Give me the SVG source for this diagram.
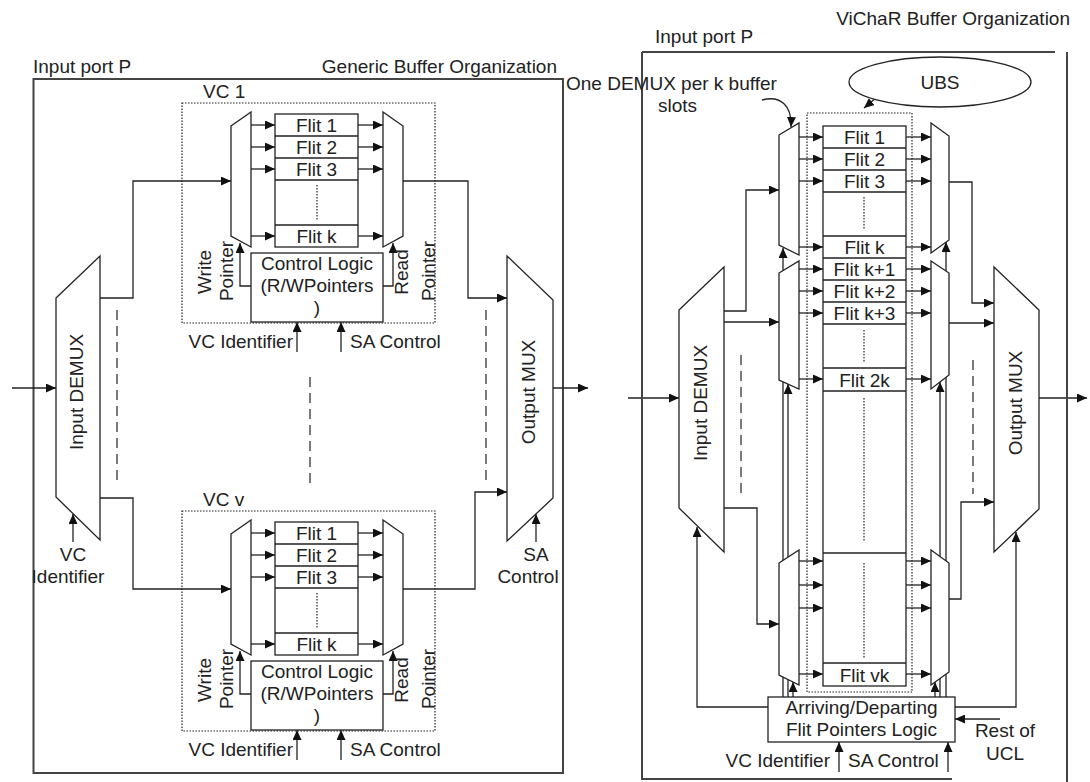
<svg xmlns="http://www.w3.org/2000/svg" width="1090" height="782" viewBox="0 0 1090 782">
<defs>
<marker id="ah" markerUnits="userSpaceOnUse" markerWidth="11" markerHeight="9" refX="10" refY="4.5" orient="auto"><path d="M0,0 L10,4.5 L0,9 z" fill="#111"/></marker>
<style>
.ln{fill:none;stroke:#222;stroke-width:1.3}
.ar{fill:none;stroke:#222;stroke-width:1.3;marker-end:url(#ah)}
.box{fill:#fff;stroke:#222;stroke-width:1.3}
.frame{fill:none;stroke:#444;stroke-width:2}
.dot{fill:none;stroke:#222;stroke-width:1.2;stroke-dasharray:1.5 1.5}
.dash{fill:none;stroke:#333;stroke-width:1.3;stroke-dasharray:10 6}
.t{font-family:"Liberation Sans",Arial,sans-serif;font-size:19px;fill:#222}
.m{text-anchor:middle}
.e{text-anchor:end}
</style>
</defs>
<rect width="1090" height="782" fill="#fff"/>

<!-- ===== LEFT: Generic buffer organization ===== -->
<g id="left-frame">
<rect class="frame" x="33.5" y="79" width="529.5" height="694"/>
<text class="t" x="33" y="73">Input port P</text>
<text class="t e" x="557" y="73">Generic Buffer Organization</text>
</g>

<g id="connectors">
<!-- left input/output -->
<line class="ar" x1="12" y1="388" x2="56" y2="388"/>
<line class="ar" x1="553" y1="388" x2="588" y2="388"/>
<polyline class="ar" points="100,298 133,298 133,181 231,181"/>
<polyline class="ar" points="100,498 133,498 133,589 231,589"/>
<polyline class="ar" points="403,181 468,181 468,298 507,298"/>
<polyline class="ar" points="403,589 475,589 475,492 507,492"/>
<line class="ar" x1="73" y1="542" x2="73" y2="514"/>
<line class="ar" x1="536" y1="542" x2="536" y2="514"/>
<!-- VC1 internal -->
<line class="ar" x1="251" y1="125" x2="275" y2="125"/>
<line class="ar" x1="251" y1="147" x2="275" y2="147"/>
<line class="ar" x1="251" y1="169" x2="275" y2="169"/>
<line class="ar" x1="251" y1="236" x2="275" y2="236"/>
<line class="ar" x1="358" y1="125" x2="383" y2="125"/>
<line class="ar" x1="358" y1="147" x2="383" y2="147"/>
<line class="ar" x1="358" y1="169" x2="383" y2="169"/>
<line class="ar" x1="358" y1="236" x2="383" y2="236"/>
<polyline class="ar" points="251,286 240,286 240,243"/>
<polyline class="ar" points="383,286 393,286 393,243"/>
<line class="ar" x1="297" y1="352" x2="297" y2="322"/>
<line class="ar" x1="341" y1="352" x2="341" y2="322"/>
<!-- VCv internal -->
<line class="ar" x1="251" y1="533" x2="275" y2="533"/>
<line class="ar" x1="251" y1="555" x2="275" y2="555"/>
<line class="ar" x1="251" y1="577" x2="275" y2="577"/>
<line class="ar" x1="251" y1="644" x2="275" y2="644"/>
<line class="ar" x1="358" y1="533" x2="383" y2="533"/>
<line class="ar" x1="358" y1="555" x2="383" y2="555"/>
<line class="ar" x1="358" y1="577" x2="383" y2="577"/>
<line class="ar" x1="358" y1="644" x2="383" y2="644"/>
<polyline class="ar" points="251,694 240,694 240,651"/>
<polyline class="ar" points="383,694 393,694 393,651"/>
<line class="ar" x1="297" y1="760" x2="297" y2="730"/>
<line class="ar" x1="341" y1="760" x2="341" y2="730"/>
<!-- dashed continuation lines -->
<line class="dash" x1="117" y1="310" x2="117" y2="486"/>
<line class="dash" x1="486" y1="310" x2="486" y2="486"/>
<line class="dash" x1="310" y1="377" x2="310" y2="488"/>

<!-- right diagram connectors -->
<line class="ar" x1="628" y1="398" x2="679" y2="398"/>
<line class="ar" x1="1039" y1="398" x2="1087" y2="398"/>
<polyline class="ar" points="724,311 746,311 746,190 779,190"/>
<line class="ar" x1="724" y1="322" x2="779" y2="322"/>
<polyline class="ar" points="724,508 757,508 757,624 779,624"/>
<polyline class="ar" points="949,182 972,182 972,303 994,303"/>
<line class="ar" x1="949" y1="323" x2="994" y2="323"/>
<polyline class="ar" points="949,599 961,599 961,502 994,502"/>
<polyline class="ar" points="768,707 697,707 697,527"/>
<polyline class="ar" points="955,707 1016,707 1016,532"/>
<line class="ar" x1="1000" y1="719" x2="955" y2="719"/>
<line class="ar" x1="839" y1="772" x2="839" y2="742"/>
<line class="ar" x1="948" y1="772" x2="948" y2="742"/>
<path class="ar" d="M762,100 C781,95 792,106 791,127"/>
<line class="ar" x1="876" y1="98" x2="864" y2="108"/>
<!-- pointer lines from logic to demuxes/muxes -->
<line class="ar" x1="783" y1="697" x2="783" y2="248"/>
<line class="ar" x1="788" y1="697" x2="788" y2="384"/>
<line class="ar" x1="793" y1="697" x2="793" y2="682"/>
<line class="ar" x1="946" y1="697" x2="946" y2="242"/>
<line class="ar" x1="940" y1="697" x2="940" y2="382"/>
<line class="ar" x1="935" y1="697" x2="935" y2="682"/>
<line class="dash" x1="741" y1="355" x2="741" y2="498"/>
<line class="dash" x1="973" y1="360" x2="973" y2="494"/>
<!-- demux -> flit arrows -->
<line class="ar" x1="799" y1="137" x2="823" y2="137"/>
<line class="ar" x1="799" y1="159" x2="823" y2="159"/>
<line class="ar" x1="799" y1="181" x2="823" y2="181"/>
<line class="ar" x1="799" y1="247" x2="823" y2="247"/>
<line class="ar" x1="799" y1="269" x2="823" y2="269"/>
<line class="ar" x1="799" y1="291" x2="823" y2="291"/>
<line class="ar" x1="799" y1="313" x2="823" y2="313"/>
<line class="ar" x1="799" y1="379" x2="823" y2="379"/>
<line class="ar" x1="799" y1="561" x2="823" y2="561"/>
<line class="ar" x1="799" y1="585" x2="823" y2="585"/>
<line class="ar" x1="799" y1="608" x2="823" y2="608"/>
<line class="ar" x1="799" y1="674" x2="823" y2="674"/>
<!-- flit -> mux arrows -->
<line class="ar" x1="906" y1="137" x2="931" y2="137"/>
<line class="ar" x1="906" y1="159" x2="931" y2="159"/>
<line class="ar" x1="906" y1="181" x2="931" y2="181"/>
<line class="ar" x1="906" y1="247" x2="931" y2="247"/>
<line class="ar" x1="906" y1="269" x2="931" y2="269"/>
<line class="ar" x1="906" y1="291" x2="931" y2="291"/>
<line class="ar" x1="906" y1="313" x2="931" y2="313"/>
<line class="ar" x1="906" y1="379" x2="931" y2="379"/>
<line class="ar" x1="906" y1="561" x2="931" y2="561"/>
<line class="ar" x1="906" y1="585" x2="931" y2="585"/>
<line class="ar" x1="906" y1="608" x2="931" y2="608"/>
<line class="ar" x1="906" y1="674" x2="931" y2="674"/>
</g>

<g id="input-demux-left">
<polygon class="box" points="56,298 100,256 100,540 56,497"/>
<text class="t m" transform="translate(83,392) rotate(-90)">Input DEMUX</text>
<text class="t m" x="73" y="561">VC</text>
<text class="t m" x="68" y="583">Identifier</text>
</g>

<g id="output-mux-left">
<polygon class="box" points="507,256 553,300 553,498 507,541"/>
<text class="t m" transform="translate(535,392) rotate(-90)">Output MUX</text>
<text class="t m" x="536" y="561">SA</text>
<text class="t m" x="528" y="583">Control</text>
</g>

<g id="vc1">
<text class="t" x="203" y="98">VC 1</text>
<rect class="dot" x="182" y="103" width="253" height="220"/>
<polygon class="box" points="231,126 251,112 251,247 231,236"/>
<rect class="box" x="275" y="114" width="83" height="133"/>
<path class="ln" d="M275,136H358M275,158H358M275,180H358M275,225H358"/>
<line class="dot" x1="317" y1="185" x2="317" y2="220"/>
<text class="t m" x="316.5" y="132">Flit 1</text>
<text class="t m" x="316.5" y="154">Flit 2</text>
<text class="t m" x="316.5" y="176">Flit 3</text>
<text class="t m" x="316.5" y="243">Flit k</text>
<polygon class="box" points="383,112 403,126 403,236 383,247"/>
<rect class="box" x="251" y="253" width="132" height="69"/>
<text class="t m" x="317" y="270">Control Logic</text>
<text class="t m" x="317" y="292">(R/WPointers</text>
<text class="t m" x="317" y="314">)</text>
<text class="t m" transform="translate(211,272) rotate(-90)">Write</text>
<text class="t m" transform="translate(233,271) rotate(-90)">Pointer</text>
<text class="t m" transform="translate(408,272) rotate(-90)">Read</text>
<text class="t m" transform="translate(435,271) rotate(-90)">Pointer</text>
<text class="t e" x="293" y="348">VC Identifier</text>
<text class="t" x="350" y="348">SA Control</text>
</g>

<g id="vcv">
<text class="t" x="203" y="506">VC v</text>
<rect class="dot" x="182" y="511" width="253" height="220"/>
<polygon class="box" points="231,534 251,520 251,655 231,644"/>
<rect class="box" x="275" y="522" width="83" height="133"/>
<path class="ln" d="M275,544H358M275,566H358M275,588H358M275,633H358"/>
<line class="dot" x1="317" y1="593" x2="317" y2="628"/>
<text class="t m" x="316.5" y="540">Flit 1</text>
<text class="t m" x="316.5" y="562">Flit 2</text>
<text class="t m" x="316.5" y="584">Flit 3</text>
<text class="t m" x="316.5" y="651">Flit k</text>
<polygon class="box" points="383,520 403,534 403,644 383,655"/>
<rect class="box" x="251" y="661" width="132" height="69"/>
<text class="t m" x="317" y="678">Control Logic</text>
<text class="t m" x="317" y="700">(R/WPointers</text>
<text class="t m" x="317" y="722">)</text>
<text class="t m" transform="translate(211,680) rotate(-90)">Write</text>
<text class="t m" transform="translate(233,679) rotate(-90)">Pointer</text>
<text class="t m" transform="translate(408,680) rotate(-90)">Read</text>
<text class="t m" transform="translate(435,679) rotate(-90)">Pointer</text>
<text class="t e" x="293" y="756">VC Identifier</text>
<text class="t" x="350" y="756">SA Control</text>
</g>

<!-- ===== RIGHT: ViChaR ===== -->
<g id="right-frame">
<path class="frame" d="M642,52H1055M642,52V779H952M1067,52V782"/>
<text class="t" x="655" y="43">Input port P</text>
<text class="t e" x="1070" y="25">ViChaR Buffer Organization</text>
<text class="t" x="566" y="90">One DEMUX per k buffer</text>
<text class="t" x="658" y="112">slots</text>
</g>

<g id="ubs">
<ellipse cx="940" cy="82" rx="91" ry="25" fill="#fff" stroke="#222" stroke-width="1.3"/>
<text class="t m" x="940" y="89">UBS</text>
</g>

<g id="buffer-slots">
<rect class="dot" x="807" y="113" width="105" height="579"/>
<rect class="box" x="823" y="126" width="83" height="560"/>
<path class="ln" d="M823,148H906M823,170H906M823,192H906M823,236H906M823,258H906M823,280H906M823,302H906M823,324H906M823,368H906M823,391H906M823,553H906M823,663H906"/>
<line class="dot" x1="864" y1="197" x2="864" y2="230"/>
<line class="dot" x1="864" y1="330" x2="864" y2="362"/>
<line class="dot" x1="864" y1="398" x2="864" y2="542"/>
<line class="dot" x1="864" y1="563" x2="864" y2="658"/>
<text class="t m" x="864.5" y="144">Flit 1</text>
<text class="t m" x="864.5" y="166">Flit 2</text>
<text class="t m" x="864.5" y="188">Flit 3</text>
<text class="t m" x="864.5" y="254">Flit k</text>
<text class="t m" x="864.5" y="276">Flit k+1</text>
<text class="t m" x="864.5" y="298">Flit k+2</text>
<text class="t m" x="864.5" y="320">Flit k+3</text>
<text class="t m" x="864.5" y="387">Flit 2k</text>
<text class="t m" x="864.5" y="682">Flit vk</text>
</g>

<g id="demux-1"><polygon class="box" points="779,135 799,123 799,255 779,245"/></g>
<g id="demux-2"><polygon class="box" points="779,273 799,261 799,389 779,380"/></g>
<g id="demux-v"><polygon class="box" points="779,563 799,550 799,685 779,675"/></g>
<g id="mux-1"><polygon class="box" points="931,123 949,136 949,240 931,253"/></g>
<g id="mux-2"><polygon class="box" points="931,261 949,273 949,375 931,389"/></g>
<g id="mux-v"><polygon class="box" points="931,550 949,563 949,672 931,685"/></g>

<g id="input-demux-right">
<polygon class="box" points="679,310 724,267 724,552 679,508"/>
<text class="t m" transform="translate(707,403) rotate(-90)">Input DEMUX</text>
</g>

<g id="output-mux-right">
<polygon class="box" points="994,267 1039,310 1039,509 994,552"/>
<text class="t m" transform="translate(1022,403) rotate(-90)">Output MUX</text>
</g>

<g id="pointer-logic">
<rect class="box" x="768" y="697" width="187" height="45"/>
<text class="t m" x="861.5" y="714">Arriving/Departing</text>
<text class="t m" x="861.5" y="736">Flit Pointers Logic</text>
<text class="t e" x="830" y="767">VC Identifier</text>
<text class="t" x="848" y="767">SA Control</text>
<text class="t m" x="1005" y="737">Rest of</text>
<text class="t m" x="1005" y="760">UCL</text>
</g>
</svg>
